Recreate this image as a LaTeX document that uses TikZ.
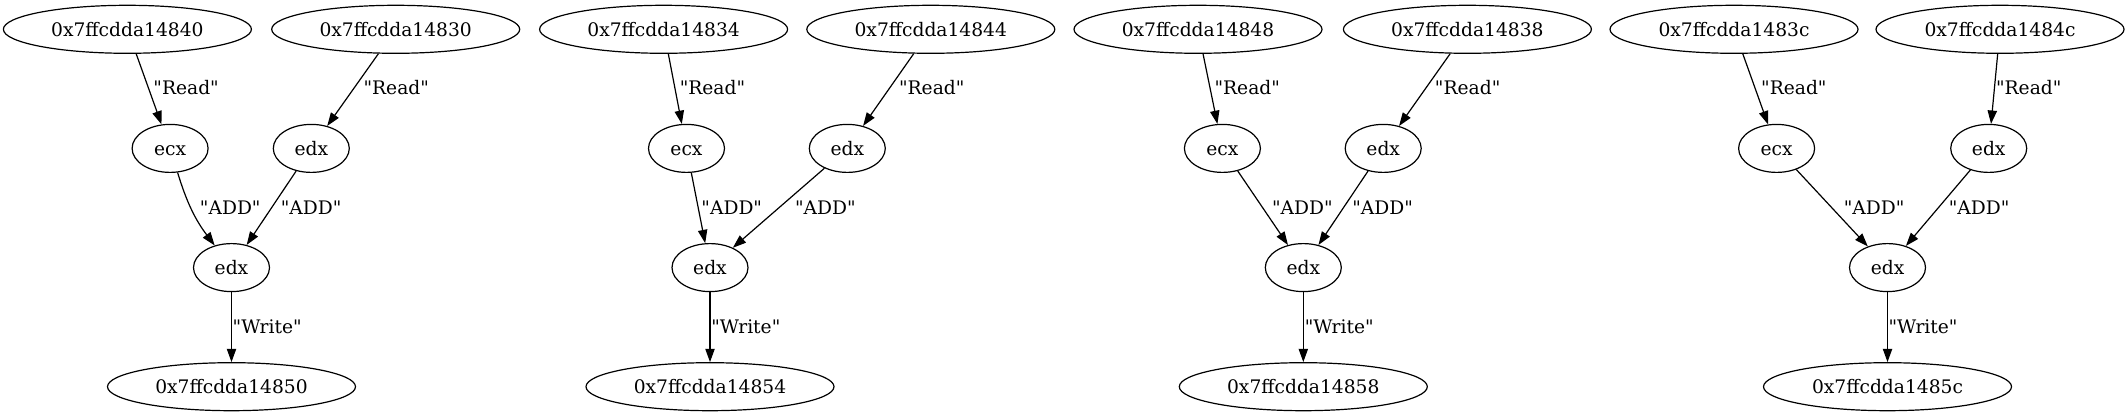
\documentclass[tikz,border=0pt]{standalone}
\usepackage{fontspec}
\setmainfont{DejaVu Serif}[Ligatures=TeXOff]
\usetikzlibrary{arrows.meta,shapes.geometric}
\begin{document}
\begin{tikzpicture}[x=0.75pt,y=-0.75pt,
  every node/.style={font=\fontsize{14pt}{16pt}\selectfont},
  big/.style={draw, ellipse, line width=0.9pt, inner sep=0pt, minimum width=186pt, minimum height=36pt, text height=10.5pt, text depth=0pt},
  reg/.style={big, minimum width=57pt},
  edge/.style={line width=0.9pt, -{Triangle[length=10pt,width=7pt]}},
  lbl/.style={anchor=base west, inner sep=0pt}]
\useasboundingbox (0,0) rectangle (2126,416);
% group 1
\node[big] (A1) at (127.4,29.3) {0x7ffcdda14840};
\node[big] (B1) at (395.7,29.3) {0x7ffcdda14830};
\node[reg] (c1) at (170.1,148.4) {ecx};
\node[reg] (d1) at (311.3,148.4) {edx};
\node[reg] (m1) at (231.5,267.6) {edx};
\node[big] (W1) at (231.5,386.7) {0x7ffcdda14850};
\draw[edge] (A1) -- (c1);
\draw[edge] (B1) -- (d1);
\draw[edge] (c1) to[bend right=10] (m1);
\draw[edge] (d1) -- (m1);
\draw[edge] (m1) -- (W1);
\node[lbl] (r1a) at (153.2,95) {"Read"};
\node[lbl] (r1b) at (363.3,95) {"Read"};
\node[lbl] (a1a) at (199.7,215) {"ADD"};
\node[lbl] (a1b) at (280.6,215) {"ADD"};
\node[lbl] (w1) at (232.4,334) {"Write"};
% group 2
\node[big] (A2) at (663.6,29.3) {0x7ffcdda14834};
\node[big] (B2) at (930.8,29.3) {0x7ffcdda14844};
\node[reg] (c2) at (686.5,148.4) {ecx};
\node[reg] (d2) at (847.3,148.4) {edx};
\node[reg] (m2) at (710,267.6) {edx};
\node[big] (W2) at (710,386.7) {0x7ffcdda14854};
\draw[edge] (A2) -- (c2);
\draw[edge] (B2) -- (d2);
\draw[edge] (c2) -- (m2);
\draw[edge] (d2) -- (m2);
\draw[edge] (m2) -- (W2);
\node[lbl] (r2a) at (679.5,95) {"Read"};
\node[lbl] (r2b) at (898.8,95) {"Read"};
\node[lbl] (a2a) at (701.2,215) {"ADD"};
\node[lbl] (a2b) at (794.8,215) {"ADD"};
\node[lbl] (w2) at (711.1,334) {"Write"};
% group 3
\node[big] (A3) at (1198,29.3) {0x7ffcdda14848};
\node[big] (B3) at (1467.4,29.3) {0x7ffcdda14838};
\node[reg] (c3) at (1222.4,148.4) {ecx};
\node[reg] (d3) at (1383.2,148.4) {edx};
\node[reg] (m3) at (1303.3,267.6) {edx};
\node[big] (W3) at (1303.3,386.7) {0x7ffcdda14858};
\draw[edge] (A3) -- (c3);
\draw[edge] (B3) -- (d3);
\draw[edge] (c3) -- (m3);
\draw[edge] (d3) -- (m3);
\draw[edge] (m3) -- (W3);
\node[lbl] (r3a) at (1214.3,95) {"Read"};
\node[lbl] (r3b) at (1434.7,95) {"Read"};
\node[lbl] (a3a) at (1271.8,215) {"ADD"};
\node[lbl] (a3b) at (1352,215) {"ADD"};
\node[lbl] (w3) at (1304.5,334) {"Write"};
% group 4
\node[big] (A4) at (1734,29.3) {0x7ffcdda1483c};
\node[big] (B4) at (2000,29.3) {0x7ffcdda1484c};
\node[reg] (c4) at (1776.6,148.4) {ecx};
\node[reg] (d4) at (1988.7,148.4) {edx};
\node[reg] (m4) at (1887.5,267.6) {edx};
\node[big] (W4) at (1887.5,386.7) {0x7ffcdda1485c};
\draw[edge] (A4) -- (c4);
\draw[edge] (B4) -- (d4);
\draw[edge] (c4) -- (m4);
\draw[edge] (d4) -- (m4);
\draw[edge] (m4) -- (W4);
\node[lbl] (r4a) at (1760.9,95) {"Read"};
\node[lbl] (r4b) at (1995.8,95) {"Read"};
\node[lbl] (a4a) at (1843.6,215) {"ADD"};
\node[lbl] (a4b) at (1948.6,215) {"ADD"};
\node[lbl] (w4) at (1888.3,334) {"Write"};
\end{tikzpicture}
\end{document}
